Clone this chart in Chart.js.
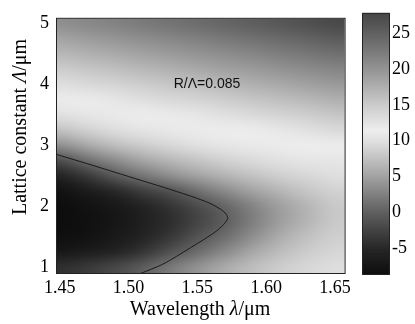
<!DOCTYPE html>
<html>
<head>
<meta charset="utf-8">
<script src="https://cdn.jsdelivr.net/npm/chart.js@4.4.1/dist/chart.umd.min.js"></script>
<style>
  html,body{margin:0;padding:0;background:#fff;}
  #wrap{position:relative;width:415px;height:324px;}
  #main{position:absolute;left:0;top:0;}
  #cbar{position:absolute;left:355px;top:0;}
</style>
</head>
<body>
<div id="wrap">
  <canvas id="main" width="355" height="324"></canvas>
  <canvas id="cbar" width="60" height="324"></canvas>
</div>
<script>
// grid columns (wavelength, um) and rows (lattice constant, um, top -> bottom)
const wavelengths = [1.45,1.47,1.49,1.51,1.53,1.55,1.57,1.59,1.61,1.63,1.65];
const lattice     = [5.0,4.75,4.5,4.25,4.0,3.75,3.5,3.25,3.0,2.75,2.5,2.25,2.0,1.75,1.5,1.25,1.0];

// dispersion values, one row per lattice constant
const dispersion = [
  [20.5,21.2,21.8,22.5,23.2,23.9,24.6,25.3,26.0,26.8,27.5],
  [18.6,19.3,19.9,20.6,21.3,22.0,22.7,23.4,24.1,24.8,25.5],
  [16.8,17.4,18.0,18.7,19.4,20.0,20.7,21.4,22.1,22.8,23.5],
  [14.9,15.5,16.1,16.8,17.4,18.1,18.8,19.4,20.1,20.8,21.5],
  [13.0,13.6,14.2,14.9,15.5,16.1,16.8,17.5,18.1,18.8,19.5],
  [11.3,11.7,12.3,13.0,13.6,14.2,14.9,15.5,16.2,16.8,17.5],
  [10.0,10.6,11.0,11.4,11.8,12.3,12.9,13.5,14.2,14.8,15.5],
  [ 7.6, 8.8, 9.7,10.4,10.9,11.2,11.4,11.6,12.2,12.8,13.5],
  [ 3.6, 5.6, 7.2, 8.4, 9.3,10.0,10.6,11.0,11.3,11.5,11.6],
  [-1.6, 1.1, 3.4, 5.3, 6.7, 7.8, 8.8, 9.5,10.1,10.5,10.7],
  [-5.6,-3.4,-0.6, 1.6, 3.5, 5.1, 6.4, 7.6, 8.6, 9.3, 9.8],
  [-7.8,-6.6,-4.9,-3.0,-1.2, 1.2, 3.3, 5.1, 6.6, 7.9, 8.9],
  [-8.5,-7.9,-7.0,-5.6,-3.9,-1.8, 0.4, 2.8, 4.9, 6.6, 8.2],
  [-8.6,-8.1,-7.3,-6.0,-4.4,-2.4,-0.1, 2.4, 4.7, 6.6, 8.2],
  [-8.3,-7.8,-6.9,-5.5,-3.6,-1.0, 1.1, 3.6, 5.9, 7.5, 8.6],
  [-7.2,-6.5,-5.4,-3.8,-1.2, 1.0, 3.3, 5.5, 7.2, 8.4, 9.2],
  [-4.2,-3.3,-2.0,-0.2, 2.0, 4.0, 5.8, 7.3, 8.5, 9.3, 9.8]
];

// zero-dispersion contour
const contourLambda  = [1.448,1.47,1.49,1.51,1.53,1.55,1.56,1.567,1.571,1.572,1.569,1.563,1.555,1.545,1.535,1.524,1.509];
const contourLattice = [2.85,2.70,2.56,2.42,2.28,2.13,2.04,1.95,1.87,1.80,1.70,1.58,1.46,1.32,1.18,1.04,0.90];

const xTicks  = [1.45,1.50,1.55,1.60,1.65];
const yTicks  = [1,2,3,4,5];
const cbTicks = [-5,0,5,10,15,20,25];
const cbRange = [-8.6,27.7];

// gray colormap: dark at both ends, lightest near 11.5
const cmapStops = [[-8.6,0.05],[-5,0.15],[0,0.37],[5,0.63],[10,0.88],[11.5,0.93],[15,0.8],[20,0.58],[25,0.38],[27.7,0.28]];

function grayLevel(v){
  const last = cmapStops[cmapStops.length-1];
  if (v <= cmapStops[0][0]) return cmapStops[0][1];
  if (v >= last[0]) return last[1];
  for (let i=0;i<cmapStops.length-1;i++){
    const [a,ga] = cmapStops[i], [b,gb] = cmapStops[i+1];
    if (v>=a && v<=b) return ga + (gb-ga)*(v-a)/(b-a);
  }
  return last[1];
}
function grayFor(v){
  const c = Math.round(grayLevel(v)*255);
  return `rgb(${c},${c},${c})`;
}

const serif = 'Liberation Serif';

function drawSegments(ctx, segs, cx, cy){
  let total = 0;
  segs.forEach(s=>{ ctx.font = s[1]; total += ctx.measureText(s[0]).width; });
  let x = cx - total/2;
  segs.forEach(s=>{ ctx.font = s[1]; ctx.fillText(s[0], x, cy); x += ctx.measureText(s[0]).width; });
}

// one pixel per grid cell, stretched over the cell extents (shaded like 'interp')
const cellImage = document.createElement('canvas');
cellImage.width = wavelengths.length; cellImage.height = lattice.length;
(() => {
  const c = cellImage.getContext('2d');
  const img = c.createImageData(cellImage.width, cellImage.height);
  lattice.forEach((L,i)=>{
    wavelengths.forEach((w,j)=>{
      const g = Math.round(grayLevel(dispersion[i][j])*255), k = (i*cellImage.width + j)*4;
      img.data[k]=g; img.data[k+1]=g; img.data[k+2]=g; img.data[k+3]=255;
    });
  });
  c.putImageData(img,0,0);
})();

const heatmap = {
  id:'heatmap',
  beforeDatasetsDraw(chart){
    const {ctx, chartArea:a, scales:{x,y}} = chart;
    const hx = (wavelengths[1]-wavelengths[0])/2, hy = (lattice[0]-lattice[1])/2;
    const x0 = x.getPixelForValue(wavelengths[0]-hx), x1 = x.getPixelForValue(wavelengths[wavelengths.length-1]+hx);
    const y0 = y.getPixelForValue(lattice[0]+hy),     y1 = y.getPixelForValue(lattice[lattice.length-1]-hy);
    ctx.save();
    ctx.beginPath(); ctx.rect(a.left,a.top,a.right-a.left,a.bottom-a.top); ctx.clip();
    ctx.imageSmoothingEnabled = true;
    ctx.imageSmoothingQuality = 'high';
    ctx.drawImage(cellImage, x0, y0, x1-x0, y1-y0);
    ctx.restore();
  },
  afterDatasetsDraw(chart){
    const {ctx, scales:{x,y}} = chart;
    ctx.save();
    ctx.fillStyle = '#111';
    ctx.font = '14px "Liberation Sans"';
    ctx.textAlign = 'center'; ctx.textBaseline = 'middle';
    ctx.fillText('R/\u039B=0.085', x.getPixelForValue(1.557), y.getPixelForValue(4.0));
    ctx.restore();
  },
  afterDraw(chart){
    const {ctx, chartArea:a} = chart;
    ctx.save();
    ctx.strokeStyle = '#222'; ctx.lineWidth = 1;
    ctx.strokeRect(a.left-0.5, a.top-0.5, a.right-a.left+1, a.bottom-a.top+1);
    ctx.fillStyle = '#000'; ctx.textBaseline = 'middle';
    drawSegments(ctx, [['Wavelength ', `20px "${serif}"`], ['\u03BB', `italic 20px "${serif}"`], ['/\u03BCm', `20px "${serif}"`]], 200, 310);
    ctx.translate(21, 127); ctx.rotate(-Math.PI/2);
    drawSegments(ctx, [['Lattice constant ', `20px "${serif}"`], ['\u039B', `italic 20px "${serif}"`], ['/\u03BCm', `20px "${serif}"`]], 0, 0);
    ctx.restore();
  }
};

new Chart(document.getElementById('main'), {
  type: 'scatter',
  data: {
    datasets: [{
      data: contourLambda.map((w,i)=>({x:w, y:contourLattice[i]})),
      showLine: true, borderColor: '#1a1a1a', borderWidth: 1, tension: 0.3,
      pointRadius: 0, fill: false
    }]
  },
  options: {
    responsive: false, animation: false,
    layout: { padding: { left:0, top:8, right:9, bottom:0 } },
    plugins: { legend: { display:false }, tooltip: { enabled:false } },
    scales: {
      x: {
        type:'linear', min:1.448, max:1.657,
        grid:{ display:false, drawTicks:false }, border:{ display:false },
        afterBuildTicks: s => { s.ticks = xTicks.map(v=>({value:v})); },
        afterFit: s => { s.height = 51; },
        ticks:{ autoSkip:false, maxRotation:0, padding:4, color:'#000',
                font:{ family:serif, size:18 }, callback: v => v.toFixed(2) }
      },
      y: {
        type:'linear', min:0.905, max:5.08,
        grid:{ display:false, drawTicks:false }, border:{ display:false },
        afterBuildTicks: s => { s.ticks = yTicks.map(v=>({value:v})); },
        afterFit: s => { s.width = 57; },
        ticks:{ padding:8, color:'#000', font:{ family:serif, size:18 } }
      }
    }
  },
  plugins: [heatmap]
});

const cbarFill = {
  id:'cbarFill',
  beforeDraw(chart){
    const {ctx, chartArea:a, scales:{y}} = chart;
    const step = 0.05;
    ctx.save();
    for (let v = cbRange[0]; v < cbRange[1]; v += step){
      const p0 = Math.floor(y.getPixelForValue(Math.min(v+step, cbRange[1])));
      const p1 = Math.ceil(y.getPixelForValue(v));
      ctx.fillStyle = grayFor(v+step/2);
      ctx.fillRect(a.left, p0, a.right-a.left, p1-p0);
    }
    ctx.strokeStyle = '#222'; ctx.lineWidth = 1;
    ctx.strokeRect(a.left-0.5, a.top-0.5, a.right-a.left+1, a.bottom-a.top+1);
    ctx.restore();
  }
};

new Chart(document.getElementById('cbar'), {
  type: 'scatter',
  data: { datasets: [] },
  options: {
    responsive: false, animation: false,
    layout: { padding: { left:8, top:9, right:0, bottom:50 } },
    plugins: { legend: { display:false }, tooltip: { enabled:false } },
    scales: {
      x: { display:false },
      y: {
        type:'linear', position:'right', min:cbRange[0], max:cbRange[1],
        grid:{ display:false, drawTicks:false }, border:{ display:false },
        afterBuildTicks: s => { s.ticks = cbTicks.map(v=>({value:v})); },
        afterFit: s => { s.width = 26; },
        ticks:{ padding:3, color:'#000', font:{ family:serif, size:18 } }
      }
    }
  },
  plugins: [cbarFill]
});
</script>
</body>
</html>
